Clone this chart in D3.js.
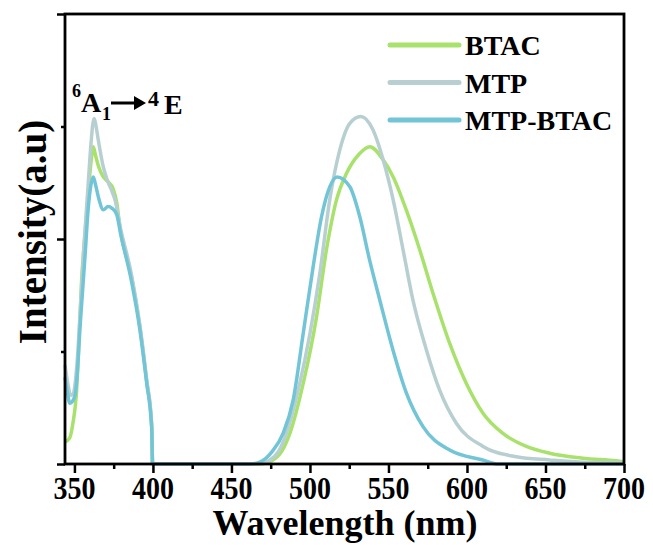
<!DOCTYPE html>
<html>
<head>
<meta charset="utf-8">
<script src="https://cdn.jsdelivr.net/npm/d3@7"></script>
<style>
  body { margin: 0; background: #fff; }
  svg { display: block; }
  text { font-family: "Liberation Serif", "Times New Roman", serif; font-weight: bold; fill: #000; }
</style>
</head>
<body>
<div id="chart"></div>
<script>
// spectra: [wavelength nm, intensity a.u.]
let btac = [
  [344, 4.9], [347, 5.8], [349, 9], [351.4, 16.4], [353, 28], [354.6, 41], [356.7, 51],
  [359, 61], [361, 68.5], [362, 70.5], [363.5, 68.5], [365.5, 66], [368, 64], [371.5, 62.7],
  [374.5, 61.3], [377, 58], [379, 52.5], [386.4, 41.5], [391.7, 30.5], [396, 18.5],
  [399.2, 8.5], [399.8, 0], [468, 0], [476, 0.8], [482, 2.8], [487.2, 6.8], [495.7, 17.9],
  [504.2, 32.7], [510.5, 47.6], [516.9, 58.7], [523.3, 64.6], [531.7, 69], [538.1, 70.5],
  [546.6, 67.6], [553, 63.8], [561.4, 56.4], [569.9, 47.6], [578.4, 37.9], [589, 26.8],
  [599.6, 17.9], [610.2, 11.3], [622.9, 6.8], [637.8, 3.9], [652.6, 2.4], [673.8, 1.3],
  [695, 0.7], [700, 0.5]
];
let mtp = [
  [344, 22], [346, 17.5], [347.5, 15.3], [349, 15.5], [350.5, 18], [352, 24], [354, 36],
  [356, 48], [358.8, 62.4], [360.5, 71], [361.7, 75.5], [362.6, 76.8], [363.8, 75],
  [365.2, 72], [368.4, 66], [371, 63], [373.7, 60.8], [376, 58.5], [379, 53], [386.4, 42],
  [391.7, 30.8], [396, 18.8], [399.2, 8.8], [399.8, 0], [466, 0], [474, 0.8], [480, 2.8],
  [485, 6.8], [493.5, 17.9], [500, 29], [506.3, 42.4], [512.6, 58.7], [519, 69.8],
  [525.4, 75.7], [532.4, 77.2], [540.2, 74.2], [546.6, 67.6], [553, 58.7], [559.3, 47.6],
  [565.6, 36.4], [574.2, 25.3], [582.6, 16.4], [593.3, 9], [610.2, 3.9], [631.4, 1.6],
  [652.6, 0.9], [675, 0.4], [700, 0.3]
];
let mtpBtac = [
  [344, 19.3], [345.5, 16], [347, 13.5], [348.5, 13.8], [350.4, 15.3], [352, 21], [353.5, 30],
  [355.5, 40], [357, 47.5], [358.6, 56], [360.5, 62], [362, 63.8], [363.5, 62], [365.5, 59],
  [368.4, 56.5], [371.4, 57.2], [374, 56.8], [376.9, 55.5], [379.5, 51], [386.4, 40.5],
  [391.7, 29.8], [396, 18], [399.2, 8], [399.8, 0], [462, 0], [470, 0.8], [476, 2.8],
  [482.9, 6.8], [489.3, 14.2], [495.7, 29], [502, 43.8], [507.4, 55], [512.6, 61.6],
  [517.3, 63.8], [525.4, 61.6], [531.7, 55], [538, 45.3], [544.5, 36.4], [552.9, 25.3],
  [561.5, 15.7], [572, 8.3], [589, 3.1], [610, 0.9], [620, 0], [700, 0]
];

let seriesNames = ['BTAC', 'MTP', 'MTP-BTAC'];
let seriesData = [btac, mtp, mtpBtac];
let seriesColors = ['#a8e26c', '#b8cfd2', '#72c5d7'];

let xTicks = [350, 400, 450, 500, 550, 600, 650, 700];
let xMinorTicks = [375, 425, 475, 525, 575, 625, 675];
let yTicks = [0, 50, 100];
let yMinorTicks = [25, 75];

let width = 653;
let height = 545;

let svg = d3.select('#chart')
  .append('svg')
  .attr('width', width)
  .attr('height', height);

let x = d3.scaleLinear().domain([344, 700]).range([65, 624]);
let y = d3.scaleLinear().domain([0, 100]).range([464, 14]);

// curves (BTAC first, MTP-BTAC on top)
let line = d3.line()
  .x(function(d) { return x(d[0]); })
  .y(function(d) { return y(d[1]); })
  .curve(d3.curveMonotoneX);

svg.selectAll('path.spec')
  .data(seriesData)
  .enter()
  .append('path')
  .attr('class', 'spec')
  .attr('d', line)
  .attr('fill', 'none')
  .attr('stroke', function(d, i) { return seriesColors[i]; })
  .attr('stroke-width', 3.5)
  .attr('stroke-linejoin', 'round');

// axes
let xAxis = d3.axisBottom(x).tickValues(xTicks).tickSize(9).tickFormat('');
let xMinor = d3.axisBottom(x).tickValues(xMinorTicks).tickSize(5).tickFormat('');
let yAxis = d3.axisLeft(y).tickValues(yTicks).tickSize(8).tickFormat('');
let yMinor = d3.axisLeft(y).tickValues(yMinorTicks).tickSize(4).tickFormat('');

function styleAxis(g) {
  g.select('.domain').remove();
  g.selectAll('line').attr('stroke', '#000').attr('stroke-width', 2.5);
}

svg.append('g').attr('transform', 'translate(0,464)').call(xAxis).call(styleAxis);
svg.append('g').attr('transform', 'translate(0,464)').call(xMinor).call(styleAxis);
svg.append('g').attr('transform', 'translate(65,0)').call(yAxis).call(styleAxis);
svg.append('g').attr('transform', 'translate(65,0)').call(yMinor).call(styleAxis);

// frame
svg.append('rect')
  .attr('x', 65).attr('y', 14)
  .attr('width', 559).attr('height', 450)
  .attr('fill', 'none')
  .attr('stroke', '#000')
  .attr('stroke-width', 2.8);

// tick labels (tall, narrow like the original)
xTicks.forEach(function(t) {
  svg.append('text')
    .attr('transform', 'translate(' + x(t) + ',499) scale(1,1.15)')
    .attr('text-anchor', 'middle')
    .style('font-size', '28px')
    .text(t);
});

// axis titles
svg.append('text')
  .attr('x', 345).attr('y', 535)
  .attr('text-anchor', 'middle')
  .style('font-size', '36px')
  .text('Wavelength (nm)');

svg.append('text')
  .attr('transform', 'translate(46,232) rotate(-90)')
  .attr('text-anchor', 'middle')
  .style('font-size', '39px')
  .text('Intensity(a.u)');

// legend
let legend = svg.append('g');
seriesNames.forEach(function(name, i) {
  let ly = 45 + i * 37.5;
  legend.append('line')
    .attr('x1', 390).attr('x2', 459)
    .attr('y1', ly).attr('y2', ly)
    .attr('stroke', seriesColors[i])
    .attr('stroke-width', 5)
    .attr('stroke-linecap', 'round');
  legend.append('text')
    .attr('x', 465).attr('y', ly + 10)
    .style('font-size', '28px')
    .text(name);
});

// transition label 6A1 -> 4E
let ann = svg.append('g');
ann.append('text').attr('x', 72).attr('y', 97).style('font-size', '18px').text('6');
ann.append('text').attr('x', 81).attr('y', 112).style('font-size', '28px').text('A');
ann.append('text').attr('x', 102).attr('y', 120).style('font-size', '18px').text('1');
ann.append('line')
  .attr('x1', 111).attr('x2', 136)
  .attr('y1', 103).attr('y2', 103)
  .attr('stroke', '#000').attr('stroke-width', 3);
ann.append('path')
  .attr('d', 'M134,96 L146,103 L134,110 Z')
  .attr('fill', '#000');
ann.append('text').attr('x', 148).attr('y', 106).style('font-size', '22px').text('4');
ann.append('text').attr('x', 164).attr('y', 114).style('font-size', '28px').text('E');
</script>
</body>
</html>
